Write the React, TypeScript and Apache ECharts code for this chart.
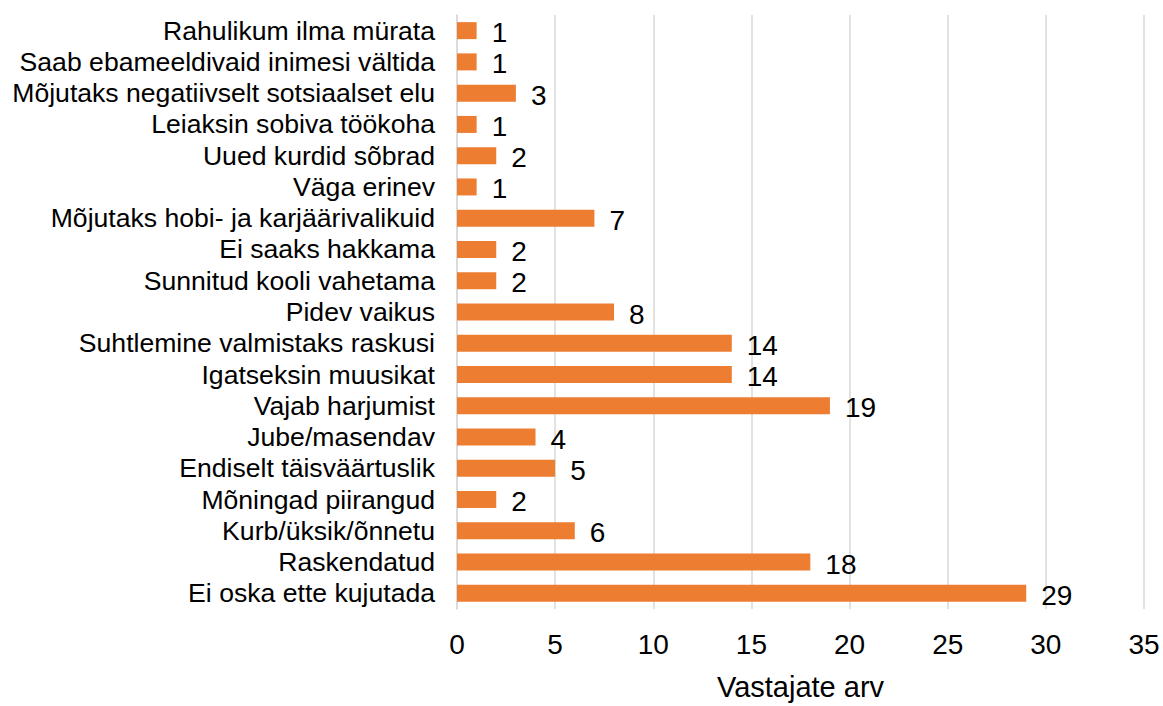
import React, { useEffect, useRef } from "react";
import * as echarts from "echarts";

const categories = [
  "Rahulikum ilma mürata",
  "Saab ebameeldivaid inimesi vältida",
  "Mõjutaks negatiivselt sotsiaalset elu",
  "Leiaksin sobiva töökoha",
  "Uued kurdid sõbrad",
  "Väga erinev",
  "Mõjutaks hobi- ja karjäärivalikuid",
  "Ei saaks hakkama",
  "Sunnitud kooli vahetama",
  "Pidev vaikus",
  "Suhtlemine valmistaks raskusi",
  "Igatseksin muusikat",
  "Vajab harjumist",
  "Jube/masendav",
  "Endiselt täisväärtuslik",
  "Mõningad piirangud",
  "Kurb/üksik/õnnetu",
  "Raskendatud",
  "Ei oska ette kujutada",
];
const values = [1, 1, 3, 1, 2, 1, 7, 2, 2, 8, 14, 14, 19, 4, 5, 2, 6, 18, 29];
const axisName = "Vastajate arv";

export default function App() {
  const ref = useRef<HTMLDivElement>(null);
  useEffect(() => {
    document.body.style.margin = "0";
    const chart = echarts.init(ref.current!, null, { renderer: "svg" });
    const font = "Liberation Sans, Arial, sans-serif";
    chart.setOption({
      animation: false,
      grid: { left: 457, right: 19, top: 15, bottom: 91, containLabel: false },
      xAxis: {
        type: "value",
        min: 0,
        max: 35,
        interval: 5,
        name: axisName,
        nameLocation: "middle",
        nameGap: 63,
        nameTextStyle: { fontSize: 29, color: "#000", fontFamily: font },
        axisLabel: { fontSize: 28, color: "#000", fontFamily: font, margin: 21 },
        axisLine: { show: false },
        axisTick: { show: false },
        splitLine: { lineStyle: { color: "#d9d9d9", width: 1.5 } },
      },
      yAxis: {
        type: "category",
        inverse: true,
        data: categories,
        axisLabel: { fontSize: 26.6, color: "#000", fontFamily: font, margin: 22, interval: 0 },
        axisLine: { show: true, lineStyle: { color: "#d9d9d9", width: 1.5 } },
        axisTick: { show: false },
      },
      series: [
        {
          type: "bar",
          data: values,
          barWidth: 17,
          itemStyle: { color: "#ED7D31" },
          label: {
            show: true,
            position: "right",
            distance: 15,
            fontSize: 28,
            color: "#000",
            fontFamily: font,
            offset: [0, 2],
          },
        },
      ],
    });
    return () => chart.dispose();
  }, []);
  return <div ref={ref} style={{ width: 1163, height: 706 }} />;
}
